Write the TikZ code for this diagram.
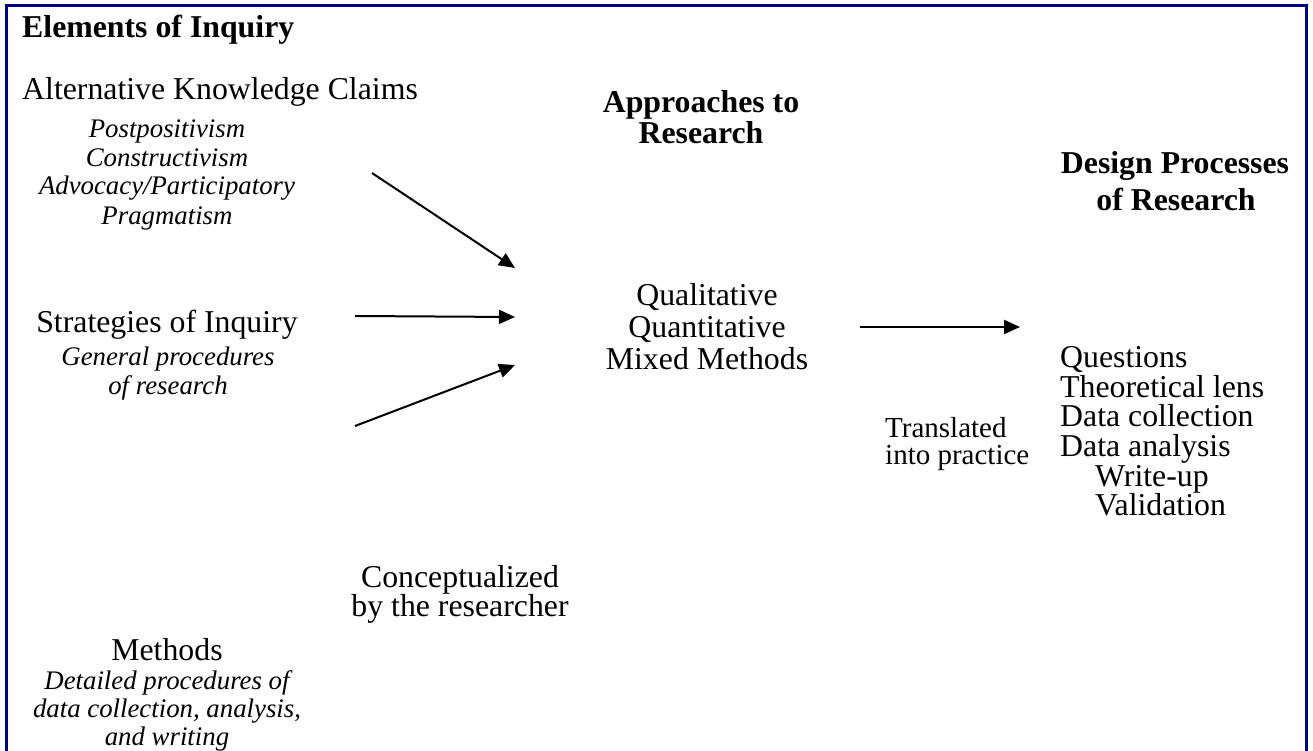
\documentclass[tikz,border=0pt]{standalone}
\usepackage{fontspec}
\setmainfont{Liberation Serif}
\usetikzlibrary{arrows.meta}
\definecolor{framecol}{RGB}{0,0,139}
\begin{document}
\begin{tikzpicture}[x=1pt,y=-1pt,
  lbl/.style={inner sep=0pt, anchor=base, font=\fontsize{31.8}{36}\selectfont},
  lblw/.style={lbl, anchor=base west},
  hd/.style={inner sep=0pt, anchor=base, font=\fontsize{31.8}{36}\selectfont\bfseries},
  hdw/.style={hd, anchor=base west},
  sub/.style={inner sep=0pt, anchor=base, font=\fontsize{26.8}{30}\selectfont\itshape},
  note/.style={inner sep=0pt, anchor=base west, font=\fontsize{29}{33}\selectfont},
  arr/.style={line width=2pt, -{Triangle[length=16pt,width=14pt]}},
]
\useasboundingbox (0,0) rectangle (1313,751);
\draw[framecol, line width=3pt] (6,760) -- (6,6) -- (1306,6) -- (1306,760);

% left column
\node[hdw] (title) at (22,38) {Elements of Inquiry};
\node[lblw] (akc) at (22,100) {Alternative Knowledge Claims};
\node[sub] (akc1) at (167,138) {Postpositivism};
\node[sub] (akc2) at (167,167) {Constructivism};
\node[sub] (akc3) at (167,195) {Advocacy/Participatory};
\node[sub] (akc4) at (167,225) {Pragmatism};

\node[lbl] (soi) at (167,332) {Strategies of Inquiry};
\node[sub] (soi1) at (168,365) {General procedures};
\node[sub] (soi2) at (168,394) {of research};

\node[lbl] (meth) at (167,660) {Methods};
\node[sub] (meth1) at (167,689) {Detailed procedures of};
\node[sub] (meth2) at (167,717) {data collection, analysis,};
\node[sub] (meth3) at (167,745) {and writing};

\node[lbl] (conc1) at (460,587) {Conceptualized};
\node[lbl] (conc2) at (460,616) {by the researcher};

% middle column
\node[hd] (appr1) at (701,113) {Approaches to};
\node[hd] (appr2) at (701,144) {Research};
\node[lbl] (qual) at (707,305) {Qualitative};
\node[lbl] (quan) at (707,337) {Quantitative};
\node[lbl] (mix) at (707,369) {Mixed Methods};

\node[note] (tr1) at (885,437) {Translated};
\node[note] (tr2) at (885,464) {into practice};

% right column
\node[hd] (des1) at (1175,174) {Design Processes};
\node[hd] (des2) at (1176,211) {of Research};
\node[lblw] (q1) at (1060,367) {Questions};
\node[lblw] (q2) at (1060,397) {Theoretical lens};
\node[lblw] (q3) at (1060,426) {Data collection};
\node[lblw] (q4) at (1060,456) {Data analysis};
\node[lblw] (q5) at (1095,486) {Write-up};
\node[lblw] (q6) at (1095,515) {Validation};

% arrows
\coordinate (a1s) at (372,173);
\coordinate (a1e) at (515,268);
\coordinate (a2s) at (355,316);
\coordinate (a2e) at (515,317);
\coordinate (a3s) at (355,426);
\coordinate (a3e) at (515,365);
\coordinate (a4s) at (860,327);
\coordinate (a4e) at (1020,327);
\draw[arr] (a1s) -- (a1e);
\draw[arr] (a2s) -- (a2e);
\draw[arr] (a3s) -- (a3e);
\draw[arr] (a4s) -- (a4e);
\end{tikzpicture}
\end{document}
